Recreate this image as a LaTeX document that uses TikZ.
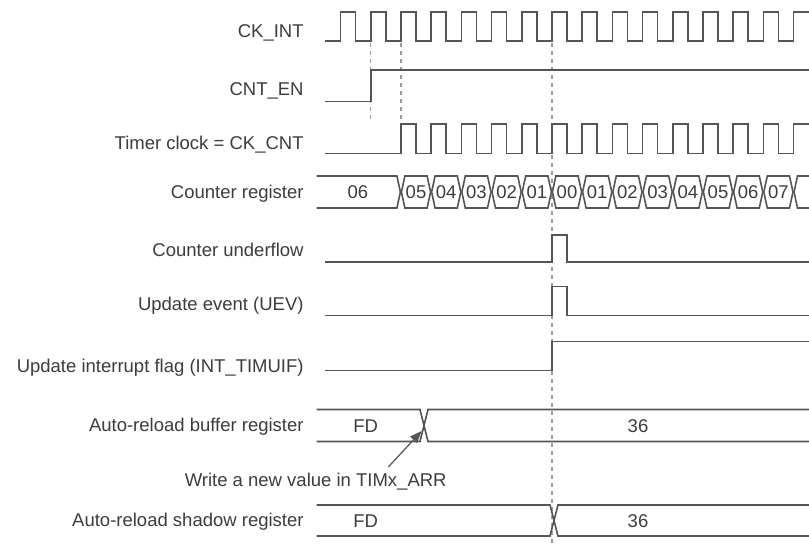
\documentclass[tikz,border=0pt]{standalone}
\usepackage{fontspec}
\setmainfont{Liberation Sans}
\usetikzlibrary{arrows.meta}
\definecolor{wavegray}{HTML}{555555}
\definecolor{textgray}{HTML}{3C3C3C}
\definecolor{dashgray}{HTML}{9A9A9A}

\begin{document}
\begin{tikzpicture}[x=0.5pt,y=-0.5pt,
  wave/.style={draw=wavegray,line width=0.8pt},
  guide/.style={draw=dashgray,line width=0.6pt,dash pattern=on 2pt off 2pt},
  signame/.style={anchor=east,text=textgray,inner sep=0pt,text height=6.6pt,text depth=0pt,font=\fontsize{9.25}{11}\selectfont},
  busval/.style={text=textgray,inner sep=0pt,text height=6.6pt,text depth=0pt,font=\fontsize{9.25}{11}\selectfont},
  pointer/.style={draw=wavegray,line width=0.6pt,-{Triangle[length=6pt,width=4.6pt]}}]

\useasboundingbox (0,0) rectangle (809,550);

\node[signame] (ckint) at (304,31) {CK\_INT};
\node[signame] (cnten) at (304,89) {CNT\_EN};
\node[signame] (ckcnt) at (304,143) {Timer clock = CK\_CNT};
\node[signame] (cntreg) at (304,192) {Counter register};
\node[signame] (uflow) at (304,250) {Counter underflow};
\node[signame] (uev) at (304,304) {Update event (UEV)};
\node[signame] (uif) at (304,366) {Update interrupt flag (INT\_TIMUIF)};
\node[signame] (arrbuf) at (304,425) {Auto-reload buffer register};
\node[signame] (arrshadow) at (304,520) {Auto-reload shadow register};

\draw[guide] (370.7,43) -- (370.7,121);
\draw[guide] (400.9,43) -- (400.9,124);
\draw[guide] (551.9,43) -- (551.9,547);

\draw[wave] (325,41) -- (340.5,41) \foreach \k in {0,...,14} { -- ++(0,-29) -- ++(15,0) -- ++(0,29) -- ++(15.2,0) } -- ++(0,-29) -- (809,12);
\draw[wave] (325,101.5) -- (370.7,101.5) -- (370.7,70) -- (809,70);
\draw[wave] (325,153.5) -- (400.9,153.5) \foreach \k in {2,...,14} { -- ++(0,-29.5) -- ++(15,0) -- ++(0,29.5) -- ++(15.2,0) } -- ++(0,-29.5) -- (809,124);

\draw[wave] (316.7,176) -- (396.9,176) -- (400.4,192) -- (396.9,208) -- (316.7,208);
\node[busval] (cnt06) at (358,192) {06};
\foreach \v [count=\i from 2] in {05,04,03,02,01,00,01,02,03,04,05,06,07} {
  \pgfmathsetmacro{\xs}{340.5+30.2*\i}
  \pgfmathsetmacro{\xe}{\xs+30.2}
  \draw[wave] (\xs+0.5,192) -- (\xs+4,176) -- (\xe-4,176) -- (\xe-0.5,192) -- (\xe-4,208) -- (\xs+4,208) -- cycle;
  \node[busval] (cnt\i) at ({(\xs+\xe)/2},192) {\v};
}
\draw[wave] (809,176) -- (797.5,176) -- (794,192) -- (797.5,208) -- (809,208);

\draw[wave] (325,262) -- (551.9,262) -- (551.9,235) -- (566.9,235) -- (566.9,262) -- (809,262);
\draw[wave] (325,315.7) -- (551.9,315.7) -- (551.9,286.7) -- (566.9,286.7) -- (566.9,315.7) -- (809,315.7);
\draw[wave] (325,370.5) -- (551.9,370.5) -- (551.9,341.5) -- (809,341.5);

\draw[wave] (316.7,409.5) -- (420,409.5) -- (428,441.5) -- (809,441.5);
\draw[wave] (316.7,441.5) -- (420,441.5) -- (428,409.5) -- (809,409.5);
\node[busval] (bufold) at (365.7,425.5) {FD};
\node[busval] (bufnew) at (638,425.5) {36};

\node[signame] (wrnote) at (447,480) {Write a new value in TIMx\_ARR};
\coordinate (wrtail) at (388.3,467);
\coordinate (wrtip) at (421.7,431);
\draw[pointer] (wrtail) -- (wrtip);

\draw[wave] (316.7,505) -- (550,505) -- (558,536) -- (809,536);
\draw[wave] (316.7,536) -- (550,536) -- (558,505) -- (809,505);
\node[busval] (shold) at (365.7,520.5) {FD};
\node[busval] (shnew) at (638,520.5) {36};

\end{tikzpicture}
\end{document}
